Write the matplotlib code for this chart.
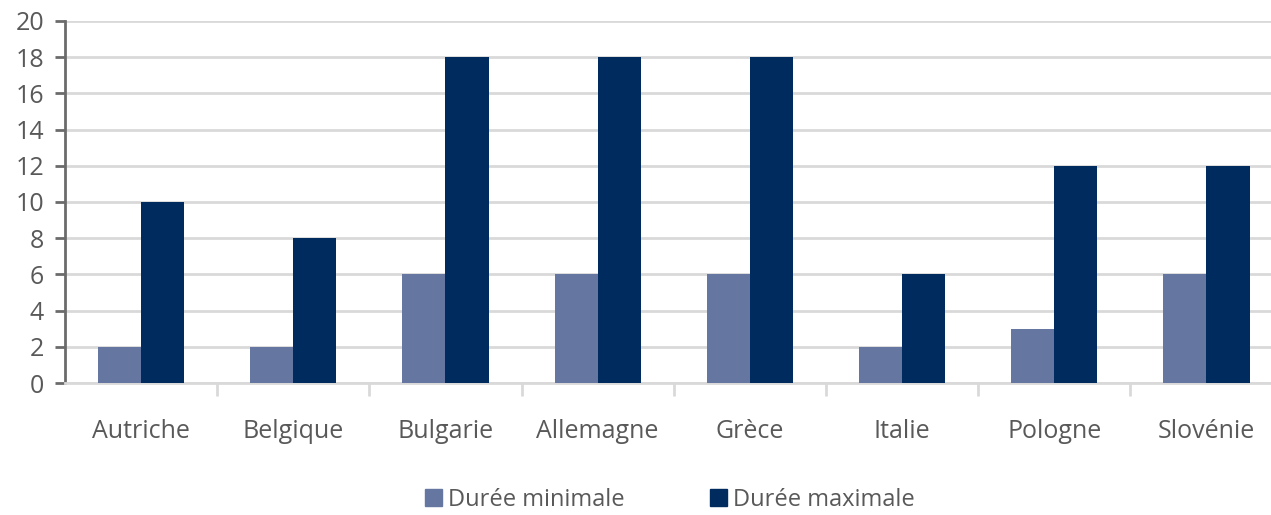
import matplotlib.pyplot as plt
import numpy as np
from matplotlib.patches import Patch

plt.rcParams['font.family'] = ['Open Sans', 'DejaVu Sans']

countries = ['Autriche', 'Belgique', 'Bulgarie', 'Allemagne', 'Grèce', 'Italie', 'Pologne', 'Slovénie']
duree_min = [2, 2, 6, 6, 6, 2, 3, 6]
duree_max = [10, 8, 18, 18, 18, 6, 12, 12]
series_names = ['Durée minimale', 'Durée maximale']
colors = ['#6577a0', '#002b5f']
text_col = '#595959'

fig = plt.figure(figsize=(12.71, 5.15), dpi=100)
# plot area runs slightly past the right edge, like the original
ax = fig.add_axes([0.0511, 0.2563, 0.958, 0.7030])

x = np.arange(len(countries))
w = 0.283
ax.bar(x - w / 2, duree_min, w, color=colors[0], zorder=3)
ax.bar(x + w / 2, duree_max, w, color=colors[1], zorder=3)

ax.set_xlim(-0.5, len(countries) - 0.5)
ax.set_ylim(0, 20)
ax.set_yticks(range(0, 21, 2))
ax.yaxis.grid(True, color='#d9d9d9', linewidth=2)
ax.set_axisbelow(True)

ax.set_xticks(x)
ax.set_xticklabels(countries)
ax.set_xticks(np.arange(0.5, len(countries) - 0.5), minor=True)
ax.tick_params(axis='x', which='major', length=0, pad=26, labelsize=18, labelcolor=text_col)
ax.tick_params(axis='x', which='minor', length=9, width=2, color='#d9d9d9', direction='out')
ax.tick_params(axis='y', length=7, width=2, color='#6b6b6b', labelsize=18, labelcolor=text_col, pad=8)

for s in ['top', 'right']:
    ax.spines[s].set_visible(False)
ax.spines['left'].set_color('#6b6b6b')
ax.spines['left'].set_linewidth(2)
ax.spines['bottom'].set_color('#d9d9d9')
ax.spines['bottom'].set_linewidth(2)

handles = [Patch(color=c) for c in colors]
fig.legend(handles, series_names, loc='center', bbox_to_anchor=(0.527, 0.03), ncol=2,
           frameon=False, fontsize=17, labelcolor=text_col, handlelength=0.75, handleheight=0.75,
           handletextpad=0.25, columnspacing=3.6, borderpad=0)

fig.savefig('out.png', dpi=100)
